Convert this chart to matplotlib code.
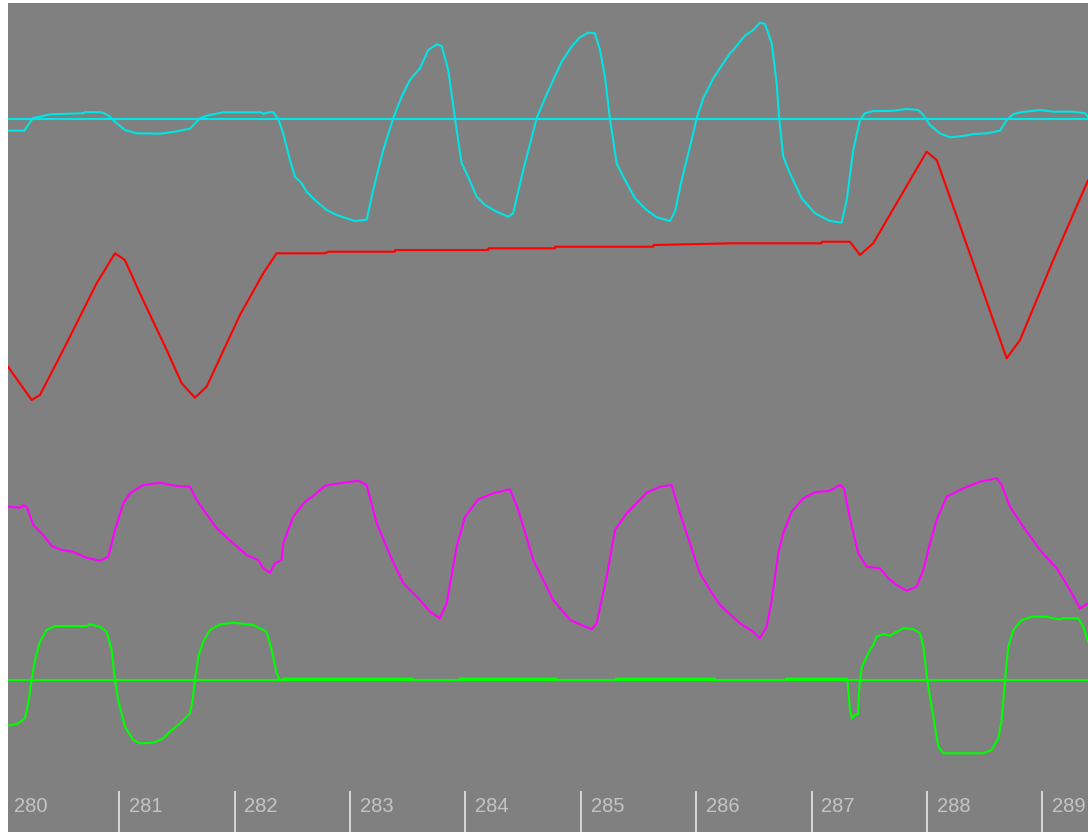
import matplotlib
matplotlib.use("Agg")
import matplotlib.pyplot as plt

# time axis in seconds, levels in screen units (0 = bottom of the trace window)
cyan_t = [280.036, 280.177, 280.252, 280.313, 280.400, 280.686, 280.703, 280.848, 280.876,
          280.919, 280.963, 281.049, 281.151, 281.353, 281.465, 281.613, 281.699, 281.757,
          281.901, 282.234, 282.248, 282.306, 282.335, 282.378, 282.421, 282.479, 282.523,
          282.581, 282.624, 282.696, 282.797, 282.884, 282.971, 283.043, 283.144, 283.201,
          283.244, 283.288, 283.374, 283.447, 283.519, 283.606, 283.678, 283.751, 283.794,
          283.851, 283.909, 283.967, 284.010, 284.097, 284.169, 284.270, 284.371, 284.414,
          284.501, 284.617, 284.689, 284.761, 284.834, 284.920, 284.992, 285.064, 285.122,
          285.166, 285.209, 285.252, 285.310, 285.368, 285.469, 285.570, 285.657, 285.772,
          285.816, 285.874, 285.946, 286.004, 286.061, 286.148, 286.292, 286.321, 286.422,
          286.494, 286.552, 286.596, 286.654, 286.697, 286.719, 286.754, 286.812, 286.914,
          287.029, 287.159, 287.260, 287.304, 287.361, 287.419, 287.462, 287.534, 287.679,
          287.824, 287.924, 287.968, 288.025, 288.112, 288.199, 288.314, 288.401, 288.517,
          288.632, 288.690, 288.748, 288.806, 288.979, 289.094, 289.267, 289.369, 289.395]
cyan_v = [701.3, 701.3, 714.0, 715.3, 717.7, 718.7, 720.0, 719.7, 718.3,
          715.3, 710.3, 702.0, 698.7, 698.3, 700.0, 703.3, 713.7, 716.3,
          719.7, 719.7, 718.0, 720.0, 719.7, 713.0, 698.7, 672.0, 655.3,
          648.7, 640.3, 632.0, 622.0, 617.0, 613.7, 611.0, 612.3, 642.0,
          662.0, 682.0, 713.7, 735.3, 752.0, 763.7, 782.0, 787.7, 786.0,
          762.0, 713.7, 668.7, 658.7, 635.3, 627.0, 620.3, 615.3, 618.7,
          662.0, 713.7, 733.7, 752.0, 770.3, 785.3, 794.7, 799.3, 798.7,
          782.0, 755.3, 713.7, 668.7, 655.3, 633.7, 622.0, 614.7, 611.0,
          620.3, 652.0, 685.3, 713.7, 733.7, 753.7, 778.7, 782.0, 796.3,
          802.0, 809.3, 808.0, 788.7, 748.7, 713.7, 675.3, 658.7, 633.7,
          618.7, 611.0, 609.3, 632.0, 682.0, 712.0, 718.7, 721.0, 721.0,
          723.0, 722.0, 717.0, 707.0, 698.7, 694.7, 696.0, 698.0, 698.7,
          701.3, 712.0, 717.7, 719.7, 722.0, 720.3, 720.3, 718.7, 715.3]
cyan_base = 713

red_t = [280.036, 280.241, 280.313, 280.544, 280.804, 280.963, 281.049, 281.179, 281.411,
         281.541, 281.656, 281.757, 282.046, 282.248, 282.364, 282.783, 282.811, 283.389,
         283.390, 284.198, 284.199, 284.776, 284.777, 285.628, 285.629, 286.307, 287.087,
         287.088, 287.332, 287.419, 287.534, 287.997, 288.084, 288.228, 288.690, 288.806,
         289.094, 289.395]
red_v = [465.3, 432.0, 437.0, 488.7, 548.7, 578.7, 572.0, 538.7, 482.0,
         448.7, 434.3, 445.3, 517.0, 558.7, 578.7, 578.7, 580.3, 580.3,
         582.0, 582.0, 583.7, 583.7, 585.3, 585.3, 587.0, 588.7, 588.7,
         590.3, 590.3, 577.0, 588.7, 680.3, 672.0, 625.3, 473.7, 492.0,
         572.0, 651.7]

magenta_t = [280.036, 280.140, 280.168, 280.198, 280.255, 280.341, 280.414, 280.501, 280.601,
             280.703, 280.833, 280.905, 280.963, 281.035, 281.093, 281.208, 281.353, 281.498,
             281.613, 281.671, 281.844, 281.988, 282.104, 282.205, 282.248, 282.306, 282.349,
             282.407, 282.421, 282.508, 282.609, 282.681, 282.783, 282.941, 283.071, 283.144,
             283.231, 283.346, 283.461, 283.606, 283.693, 283.779, 283.837, 283.924, 283.996,
             284.111, 284.241, 284.386, 284.458, 284.588, 284.761, 284.906, 285.094, 285.137,
             285.224, 285.296, 285.397, 285.570, 285.686, 285.787, 285.859, 286.032, 286.119,
             286.206, 286.379, 286.494, 286.552, 286.610, 286.654, 286.711, 286.754, 286.827,
             286.928, 287.029, 287.159, 287.246, 287.280, 287.332, 287.404, 287.477, 287.592,
             287.664, 287.737, 287.824, 287.910, 287.968, 288.025, 288.084, 288.170, 288.314,
             288.459, 288.604, 288.647, 288.719, 288.834, 288.979, 289.124, 289.239, 289.326,
             289.395]
magenta_v = [325.3, 324.3, 326.7, 325.3, 307.0, 297.0, 286.0, 282.0, 280.3,
             274.7, 271.3, 275.3, 302.0, 328.7, 338.7, 347.0, 349.3, 346.0,
             345.3, 332.0, 303.7, 288.7, 277.0, 272.0, 263.7, 259.3, 268.7,
             272.0, 288.7, 315.3, 330.3, 336.0, 346.3, 349.3, 351.3, 347.0,
             308.7, 277.0, 248.7, 232.0, 220.3, 213.7, 228.7, 285.3, 315.3,
             332.7, 338.7, 342.7, 322.0, 272.0, 232.0, 212.0, 202.7, 208.7,
             255.3, 302.0, 318.7, 339.3, 345.3, 347.0, 318.7, 258.7, 242.0,
             227.0, 208.7, 200.3, 193.7, 205.3, 232.0, 278.7, 298.7, 320.3,
             333.7, 339.7, 341.3, 347.0, 343.7, 313.7, 278.7, 265.3, 263.7,
             253.7, 247.0, 241.3, 245.3, 262.0, 288.7, 312.0, 335.3, 343.7,
             350.3, 353.7, 347.0, 325.3, 305.3, 282.0, 263.7, 242.0, 223.7,
             228.7]

green_t = [280.036, 280.125, 280.183, 280.211, 280.241, 280.270, 280.313, 280.371, 280.443,
           280.718, 280.746, 280.833, 280.891, 280.934, 280.963, 280.991, 281.049, 281.121,
           281.179, 281.295, 281.381, 281.439, 281.541, 281.613, 281.636, 281.656, 281.685,
           281.728, 281.786, 281.873, 281.988, 282.161, 282.277, 282.321, 282.364, 282.393,
           282.436, 283.543, 283.544, 283.953, 283.954, 284.793, 284.794, 285.304, 285.305,
           286.162, 286.163, 286.777, 286.778, 287.306, 287.311, 287.315, 287.332, 287.350,
           287.376, 287.402, 287.410, 287.419, 287.436, 287.477, 287.506, 287.534, 287.564,
           287.621, 287.679, 287.737, 287.794, 287.881, 287.939, 287.968, 288.002, 288.040,
           288.098, 288.141, 288.487, 288.560, 288.618, 288.647, 288.676, 288.704, 288.748,
           288.820, 288.907, 289.037, 289.094, 289.152, 289.181, 289.311, 289.354, 289.395]
green_v = [106.3, 108.7, 113.7, 128.7, 152.0, 172.0, 190.3, 202.0, 206.0,
           206.0, 207.7, 205.3, 200.3, 182.0, 152.0, 132.0, 105.3, 92.0,
           88.7, 89.3, 93.7, 100.3, 110.3, 118.7, 132.0, 152.0, 175.3,
           190.3, 202.0, 207.7, 209.3, 207.0, 200.3, 182.0, 158.7, 151.5,
           153.5, 153.5, 152.0, 152.0, 153.5, 153.5, 152.0, 152.0, 153.5,
           153.5, 152.0, 152.0, 153.5, 153.5, 152.0, 143.7, 122.0, 113.7,
           117.0, 118.0, 138.7, 152.0, 165.3, 175.3, 182.0, 187.0, 195.3,
           198.0, 196.3, 200.3, 203.7, 203.0, 198.7, 185.3, 152.0, 125.3,
           85.3, 78.7, 78.7, 82.0, 93.7, 112.0, 152.0, 185.3, 202.0,
           212.0, 215.3, 215.3, 213.7, 212.7, 213.7, 213.7, 205.3, 190.3]
green_base = 152

seconds = [280, 281, 282, 283, 284, 285, 286, 287, 288, 289]

fig = plt.figure(figsize=(10.88, 8.32), dpi=100, facecolor="white")
ax = fig.add_axes([8 / 1088, 0, 1080 / 1088, 829 / 832])
ax.set_facecolor("#808080")
ax.set_xlim(280.036, 289.395)
ax.set_ylim(0, 829)

ax.axhline(cyan_base, color="#00e5e5", lw=1.5)
ax.axhline(green_base, color="#00ff00", lw=1.5)

ax.plot(cyan_t, cyan_v, color="#00e5e5", lw=1.5)
ax.plot(red_t, red_v, color="#ff0000", lw=1.5)
ax.plot(magenta_t, magenta_v, color="#ff00ff", lw=1.5)
ax.plot(green_t, green_v, color="#00ff00", lw=1.5)

# time ruler along the bottom
for s in seconds:
    if s > seconds[0]:
        ax.plot([s, s], [0, 40], color="#d8d8d8", lw=1.4)
    ax.text(s + 0.085, 26, str(s), color="#c4c4c4", fontsize=14.5, va="center", ha="left",
            family=["Liberation Sans", "DejaVu Sans"])

ax.set_xticks([])
ax.set_yticks([])
for sp in ax.spines.values():
    sp.set_visible(False)

fig.savefig("out.png", dpi=100, facecolor="white")
